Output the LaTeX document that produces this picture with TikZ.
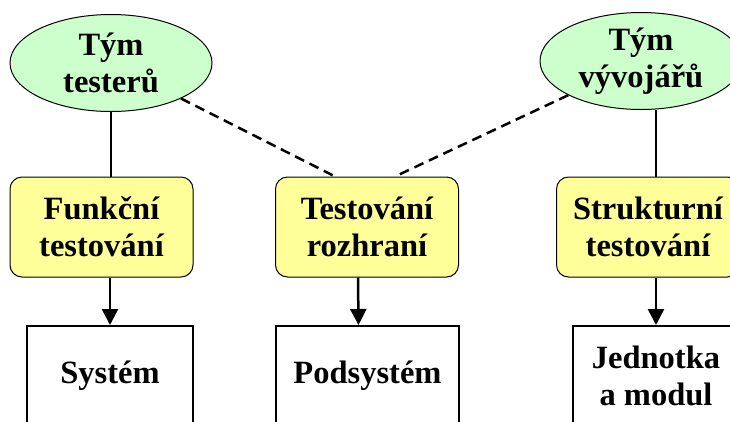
\documentclass[tikz,border=0pt]{standalone}
\usepackage{fontspec}
\setmainfont{Liberation Serif}
\usetikzlibrary{shapes.geometric,arrows.meta}

\definecolor{teamgreen}{HTML}{CCFFCC}
\definecolor{methodyellow}{HTML}{FFFF99}

\begin{document}
\begin{tikzpicture}[x=1pt,y=-1pt,
  every node/.style={font=\fontsize{32.5}{37}\selectfont\bfseries, align=center, inner sep=0pt},
  team/.style={ellipse, draw, line width=1pt, fill=teamgreen, minimum width=202pt, minimum height=97pt},
  method/.style={rectangle, rounded corners=12pt, draw, line width=1pt, fill=methodyellow, minimum width=183pt, minimum height=100pt},
  level/.style={rectangle, draw, line width=2pt, fill=white, minimum height=100pt},
  link/.style={line width=2.5pt},
  flow/.style={line width=2.5pt, -{Triangle[length=16pt,width=16pt]}},
  share/.style={line width=2.5pt, dash pattern=on 10pt off 6pt}]
\useasboundingbox (0,0) rectangle (730,421);
\clip (0,0) rectangle (730,421);

  % teams
  \node[team] (tt) at (111,63) {Tým\\testerů};
  \node[team] (tv) at (641,61) {Tým\\vývojářů};

  % kinds of testing
  \node[method] (ft) at (101.5,227) {Funkční\\testování};
  \node[method] (tr) at (367,227)   {Testování\\rozhraní};
  \node[method] (st) at (648,227)   {Strukturní\\testování};

  % levels
  \node[level, minimum width=166pt] (sys) at (110,376)   {Systém};
  \node[level, minimum width=183pt] (pod) at (367.5,376) {Podsystém};
  \node[level, minimum width=166pt] (jm)  at (656,376)   {Jednotka\\a modul};

  \draw[link] (tt.south) -- (tt.south |- ft.north);
  \draw[link] (tv.south -| jm.north) -- (st.north -| jm.north);

  \draw[share] (tt) -- ([xshift=-32pt]tr.north);
  \draw[share] (tv) -- ([xshift=28pt]tr.north);

  \draw[flow] (ft.south -| sys.north) -- (sys.north);
  \draw[flow] ([xshift=-9pt]tr.south) -- ([xshift=-9pt]pod.north);
  \draw[flow] (st.south -| jm.north) -- (jm.north);
\end{tikzpicture}
\end{document}
